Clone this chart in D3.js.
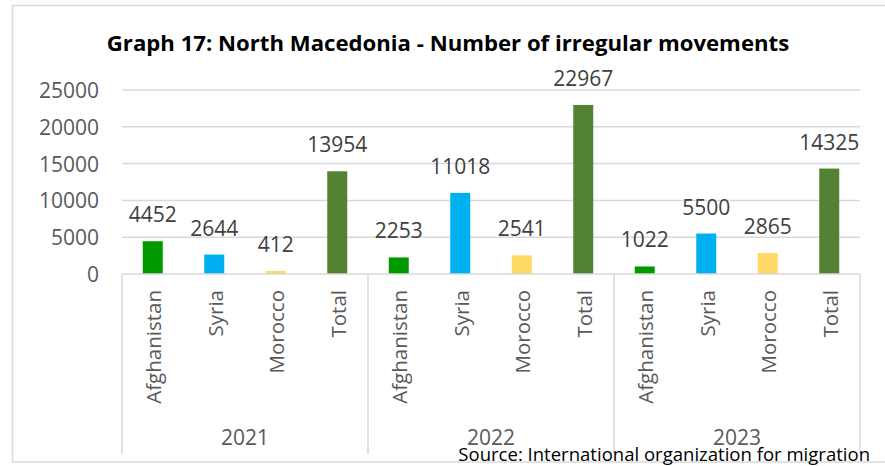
<!DOCTYPE html>
<html><head><meta charset="utf-8">
<script src="https://cdn.jsdelivr.net/npm/d3@7"></script>
<style>html,body{margin:0;padding:0;background:#fff;}svg{display:block;}</style>
</head><body>
<svg id="c" width="885" height="466"></svg>
<script>
const years = ["2021", "2022", "2023"];
const categories = ["Afghanistan", "Syria", "Morocco", "Total"];
const values2021 = [4452, 2644, 412, 13954];
const values2022 = [2253, 11018, 2541, 22967];
const values2023 = [1022, 5500, 2865, 14325];
const yTicks = [0, 5000, 10000, 15000, 20000, 25000];
const colors = ["#009900", "#00B0F0", "#FFD966", "#548235"];
const titleText = "Graph 17: North Macedonia - Number of irregular movements";
const sourceText = "Source: International organization for migration";

const seriesByYear = [values2021, values2022, values2023];
const rows = [];
years.forEach((yr, i) => categories.forEach((c, j) => rows.push({year: yr, cat: c, value: seriesByYear[i][j], ci: j})));

const svg = d3.select("#c");
const font = "'Open Sans', 'Liberation Sans', sans-serif";
const L = 122, R = 860, T = 90, B = 274;

// outer border
svg.append("rect").attr("x", 12.5).attr("y", 5.5).attr("width", 900).attr("height", 456.5)
  .attr("fill", "none").attr("stroke", "#d9d9d9").attr("stroke-width", 1.5);

const x0 = d3.scaleBand().domain(years).range([L, R]).padding(0);
const x1 = d3.scaleBand().domain(categories).range([0, x0.bandwidth()]).padding(0);
const y = d3.scaleLinear().domain([0, 25000]).range([B, T]);

// gridlines
svg.append("g").selectAll("line").data(yTicks.filter(t => t > 0)).join("line")
  .attr("x1", L).attr("x2", R).attr("y1", d => y(d)).attr("y2", d => y(d))
  .attr("stroke", "#d9d9d9").attr("stroke-width", 1.5);

// y axis labels
const yAxis = svg.append("g").attr("transform", `translate(99,0)`)
  .call(d3.axisLeft(y).tickValues(yTicks).tickSize(0).tickPadding(0).tickFormat(d3.format("d")));
yAxis.select(".domain").remove();
yAxis.selectAll("text").attr("font-family", font).attr("font-size", 21).attr("fill", "#595959").attr("dy", "0.36em");

// bars
const bw = 20;
svg.append("g").selectAll("rect").data(rows).join("rect")
  .attr("x", d => x0(d.year) + x1(d.cat) + x1.bandwidth() / 2 - bw / 2)
  .attr("width", bw)
  .attr("y", d => y(d.value))
  .attr("height", d => y(0) - y(d.value))
  .attr("fill", d => colors[d.ci]);

// value labels
svg.append("g").selectAll("text").data(rows).join("text")
  .attr("x", d => x0(d.year) + x1(d.cat) + x1.bandwidth() / 2)
  .attr("y", d => y(d.value) - 19)
  .attr("text-anchor", "middle")
  .attr("font-family", font).attr("font-size", 21).attr("fill", "#404040")
  .text(d => d.value);

// category axis lines
svg.append("line").attr("x1", L).attr("x2", R).attr("y1", B).attr("y2", B)
  .attr("stroke", "#d9d9d9").attr("stroke-width", 1.5);
const seps = years.map(yr => x0(yr)).concat([R]);
svg.append("g").selectAll("line").data(seps).join("line")
  .attr("x1", d => d).attr("x2", d => d).attr("y1", B).attr("y2", 454)
  .attr("stroke", "#d9d9d9").attr("stroke-width", 1.5);

// category labels (rotated)
svg.append("g").selectAll("text").data(rows).join("text")
  .attr("transform", d => `translate(${x0(d.year) + x1(d.cat) + x1.bandwidth() / 2 + 1},290) rotate(-90)`)
  .attr("text-anchor", "end").attr("dy", "0.36em")
  .attr("font-family", font).attr("font-size", 20.5).attr("fill", "#595959")
  .text(d => d.cat);

// year labels
svg.append("g").selectAll("text").data(years).join("text")
  .attr("x", d => x0(d) + x0.bandwidth() / 2).attr("y", 445)
  .attr("text-anchor", "middle")
  .attr("font-family", font).attr("font-size", 21).attr("fill", "#595959")
  .text(d => d);

// title
const title = svg.append("text").attr("x", 448).attr("y", 51).attr("text-anchor", "middle")
  .attr("font-family", font).attr("font-weight", "bold").attr("font-size", 22).attr("fill", "#000")
  .text(titleText);
const tw = title.node().getComputedTextLength();
title.attr("font-size", 22 * 683 / tw);

// source
const src = svg.append("text").attr("x", 870).attr("y", 461).attr("text-anchor", "end")
  .attr("font-family", font).attr("font-size", 17).attr("fill", "#000")
  .text(sourceText);
const sw = src.node().getComputedTextLength();
src.attr("font-size", 17 * 412 / sw);
</script>
</body></html>
